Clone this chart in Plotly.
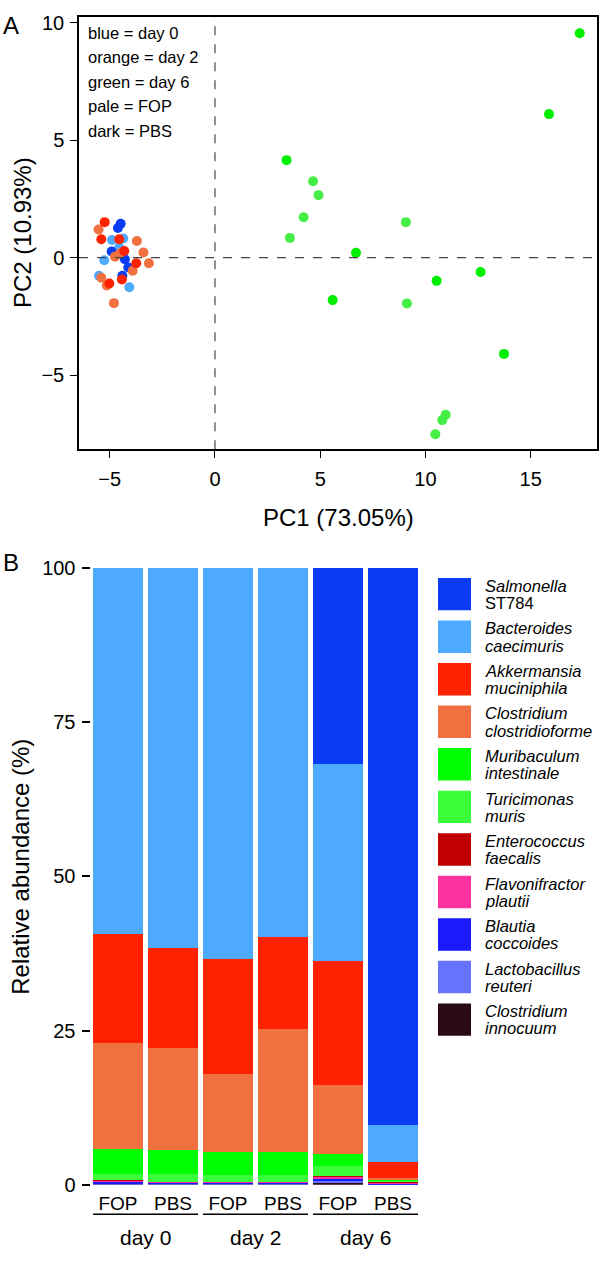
import plotly.graph_objects as go

W, H = 600, 1261
FONT = "Liberation Sans, Arial, sans-serif"

# ---------------- Panel A data (PCA) ----------------
d0_fop_x = [-4.89, -4.36, -4.56, -4.55, -5.26, -5.51, -4.07]
d0_fop_y = [0.75, 0.81, 0.32, 0.43, -0.11, -0.77, -1.26]
d0_pbs_x = [-4.48, -4.61, -4.91, -4.28, -4.12, -4.40]
d0_pbs_y = [1.44, 1.26, 0.26, -0.07, -0.42, -0.77]
d2_fop_x = [-5.53, -3.71, -3.40, -4.75, -4.51, -3.14, -3.91, -5.40, -5.14, -4.80]
d2_fop_y = [1.20, 0.71, 0.22, 0.04, 0.18, -0.24, -0.56, -0.86, -1.19, -1.94]
d2_pbs_x = [-5.24, -5.40, -4.55, -4.31, -3.74, -4.42, -5.02]
d2_pbs_y = [1.51, 0.78, 0.78, 0.28, -0.24, -0.93, -1.10]
d6_fop_x = [4.66, 4.92, 4.21, 9.07, 9.12, 10.96, 10.80, 10.47, 3.56]
d6_fop_y = [3.25, 2.66, 1.72, 1.51, -1.95, -6.69, -6.92, -7.52, 0.84]
d6_pbs_x = [17.33, 15.87, 6.70, 12.62, 10.53, 5.59, 13.73, 3.40]
d6_pbs_y = [9.55, 6.11, 0.21, -0.61, -0.99, -1.81, -4.10, 4.15]

note_lines = ["blue = day 0", "orange = day 2", "green = day 6", "pale = FOP", "dark = PBS"]

# ---------------- Panel B data (relative abundance) ----------------
samples = ["FOP", "PBS", "FOP", "PBS", "FOP", "PBS"]
days = ["day 0", "day 2", "day 6"]
# stacked bottom -> top
taxa = ["Clostridium innocuum", "Lactobacillus reuteri", "Blautia coccoides",
        "Flavonifractor plautii", "Enterococcus faecalis", "Turicimonas muris",
        "Muribaculum intestinale", "Clostridium clostridioforme",
        "Akkermansia muciniphila", "Bacteroides caecimuris", "Salmonella ST784"]
c_innocuum = [0.05, 0.05, 0.05, 0.05, 0.40, 0.03]
l_reuteri = [0.10, 0.10, 0.10, 0.10, 0.20, 0.05]
b_coccoides = [0.30, 0.20, 0.20, 0.20, 0.30, 0.15]
f_plautii = [0.25, 0.10, 0.10, 0.10, 0.40, 0.15]
e_faecalis = [0.05, 0.05, 0.05, 0.05, 0.17, 0.10]
t_muris = [1.05, 1.17, 1.10, 1.10, 1.48, 0.10]
m_intestinale = [4.00, 3.93, 3.70, 3.70, 2.05, 0.30]
c_clostridioforme = [17.10, 16.50, 12.60, 20.00, 11.20, 0.20]
a_muciniphila = [17.70, 16.30, 18.75, 14.90, 20.00, 2.57]
b_caecimuris = [59.40, 61.60, 63.35, 59.80, 32.00, 6.10]
salmonella = [0.0, 0.0, 0.0, 0.0, 31.80, 90.25]
values = [c_innocuum, l_reuteri, b_coccoides, f_plautii, e_faecalis, t_muris,
          m_intestinale, c_clostridioforme, a_muciniphila, b_caecimuris, salmonella]
colors = ["#2b0a16", "#6673ff", "#1a1aff", "#ff33a0", "#c00000", "#3cff3c",
          "#00ff00", "#f07040", "#ff2200", "#4daaff", "#0a3cf5"]

legend_lines = [("<i>Salmonella</i>", "ST784"),
                ("<i>Bacteroides</i>", "<i>caecimuris</i>"),
                ("<i>Akkermansia</i>", "<i>muciniphila</i>"),
                ("<i>Clostridium</i>", "<i>clostridioforme</i>"),
                ("<i>Muribaculum</i>", "<i>intestinale</i>"),
                ("<i>Turicimonas</i>", "<i>muris</i>"),
                ("<i>Enterococcus</i>", "<i>faecalis</i>"),
                ("<i>Flavonifractor</i>", "<i>plautii</i>"),
                ("<i>Blautia</i>", "<i>coccoides</i>"),
                ("<i>Lactobacillus</i>", "<i>reuteri</i>"),
                ("<i>Clostridium</i>", "<i>innocuum</i>")]


def px(v):
    return v / W


def py(v):
    return 1 - v / H


fig = go.Figure()

groups = [
    (d0_fop_x, d0_fop_y, "#4daaff"),
    (d0_pbs_x, d0_pbs_y, "#0a3cf5"),
    (d2_fop_x, d2_fop_y, "#f07040"),
    (d2_pbs_x, d2_pbs_y, "#ff2200"),
    (d6_fop_x, d6_fop_y, "#44ee44"),
    (d6_pbs_x, d6_pbs_y, "#00ee00"),
]
for gx, gy, col in groups:
    fig.add_trace(go.Scatter(x=gx, y=gy, mode="markers", xaxis="x", yaxis="y",
                             marker=dict(size=10, color=col, line=dict(width=0)),
                             showlegend=False, hoverinfo="skip"))

xs = list(range(len(samples)))
for vals, col, name in zip(values, colors, taxa):
    fig.add_trace(go.Bar(x=xs, y=vals, xaxis="x2", yaxis="y2", name=name,
                         marker=dict(color=col, line=dict(width=0)),
                         showlegend=False))

fig.update_layout(
    width=W, height=H, margin=dict(l=0, r=0, t=0, b=0),
    paper_bgcolor="white", plot_bgcolor="white",
    font=dict(family=FONT, color="black"),
    barmode="stack", bargap=0.09,
    xaxis=dict(domain=[px(79), px(597)], range=[-6.46, 18.15], anchor="y",
               showgrid=False, zeroline=False, showline=True, mirror=True,
               linecolor="black", linewidth=1.5, ticks="outside", ticklen=7,
               tickwidth=1.3, tickcolor="black", tickvals=[-5, 0, 5, 10, 15],
               ticktext=["\u22125", "0", "5", "10", "15"],
               tickfont=dict(size=20), ticklabelstandoff=4),
    yaxis=dict(domain=[py(446), py(6)], range=[-8.16, 10.25], anchor="x",
               showgrid=False, zeroline=False, showline=True, mirror=True,
               linecolor="black", linewidth=1.5, ticks="outside", ticklen=7,
               tickwidth=1.3, tickcolor="black", tickvals=[-5, 0, 5, 10],
               ticktext=["\u22125", "0", "5", "10"],
               tickfont=dict(size=20), ticklabelstandoff=2),
    xaxis2=dict(domain=[px(90.5), px(420.5)], range=[-0.5, 5.5], anchor="y2",
                showgrid=False, zeroline=False, showline=False,
                tickvals=xs, ticktext=samples, ticks="", tickfont=dict(size=19),
                ticklabelstandoff=5),
    yaxis2=dict(domain=[py(1194.5), py(567)], range=[0, 100], anchor="x2",
                showgrid=False, zeroline=False, showline=False,
                ticks="outside", ticklen=8, tickwidth=1.5, tickcolor="black",
                tickvals=[0, 25, 50, 75, 100], tickfont=dict(size=20),
                ticklabelstandoff=2),
)

shapes = [
    dict(type="line", xref="x", yref="y", x0=0, x1=0, y0=-8.16, y1=10.25,
         line=dict(color="#444", width=1.2, dash="dash")),
    dict(type="line", xref="x", yref="y", x0=-6.46, x1=18.15, y0=0, y1=0,
         line=dict(color="#444", width=1.2, dash="dash")),
]
half = (1 - 0.09) / 2
for i, d in enumerate(days):
    shapes.append(dict(type="line", xref="x2", yref="paper",
                       x0=2 * i - half, x1=2 * i + 1 + half,
                       y0=py(1224.5), y1=py(1224.5),
                       line=dict(color="black", width=1.5)))

ann = []
for k, t in enumerate(note_lines):
    ann.append(dict(text=t, xref="paper", yref="paper", x=px(86), y=py(22 + 25 * k),
                    xanchor="left", yanchor="middle", showarrow=False,
                    font=dict(size=16.5)))
ann.append(dict(text="PC1 (73.05%)", xref="paper", yref="paper", x=px(338), y=py(515),
                xanchor="center", yanchor="middle", showarrow=False, font=dict(size=24)))
ann.append(dict(text="PC2 (10.93%)", xref="paper", yref="paper", x=px(22), y=py(226),
                xanchor="center", yanchor="middle", showarrow=False, textangle=-90,
                font=dict(size=24)))
ann.append(dict(text="Relative abundance (%)", xref="paper", yref="paper", x=px(21),
                y=py(871), xanchor="center", yanchor="middle", showarrow=False,
                textangle=-90, font=dict(size=24)))
ann.append(dict(text="A", xref="paper", yref="paper", x=px(1), y=py(15),
                xanchor="left", yanchor="middle", showarrow=False, font=dict(size=24)))
ann.append(dict(text="B", xref="paper", yref="paper", x=px(1), y=py(561),
                xanchor="left", yanchor="middle", showarrow=False, font=dict(size=24)))
for i, d in enumerate(days):
    ann.append(dict(text=d, xref="x2", yref="paper", x=2 * i + 0.5, y=py(1248),
                    xanchor="center", yanchor="middle", showarrow=False,
                    font=dict(size=21)))

# legend (top entry first = top of stack)
for k, (l1, l2) in enumerate(legend_lines):
    top = 577 + 43.3 * k
    col = colors[len(colors) - 1 - k]
    shapes.append(dict(type="rect", xref="paper", yref="paper",
                       x0=px(438), x1=px(471), y0=py(top + 33), y1=py(top),
                       fillcolor=col, line=dict(width=0)))
    cy = top + 16.5
    ann.append(dict(text=l1, xref="paper", yref="paper", x=px(483), y=py(cy - 8.5),
                    xanchor="left", yanchor="middle", showarrow=False,
                    font=dict(size=16.5)))
    ann.append(dict(text=l2, xref="paper", yref="paper", x=px(483), y=py(cy + 9),
                    xanchor="left", yanchor="middle", showarrow=False,
                    font=dict(size=16.5)))

fig.update_layout(shapes=shapes, annotations=ann)
fig.write_html("out.html", config={"displayModeBar": False},
               post_script="document.body.style.margin='0';"
                           "document.body.style.overflow='hidden';")
